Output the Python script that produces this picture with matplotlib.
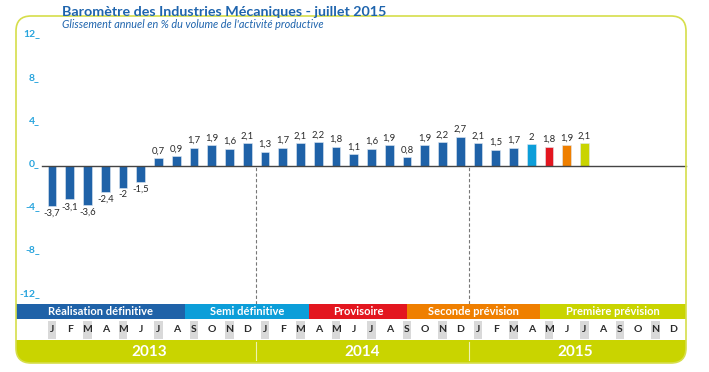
import matplotlib
matplotlib.use("Agg")
import matplotlib.pyplot as plt
from matplotlib.patches import FancyBboxPatch, Rectangle
from matplotlib.transforms import Affine2D

plt.rcParams['font.family'] = ['Lato', 'DejaVu Sans']

# data: one bar per month, from Jan 2013
values = [-3.7, -3.1, -3.6, -2.4, -2, -1.5, 0.7, 0.9, 1.7, 1.9, 1.6, 2.1,
          1.3, 1.7, 2.1, 2.2, 1.8, 1.1, 1.6, 1.9, 0.8, 1.9, 2.2, 2.7,
          2.1, 1.5, 1.7, 2, 1.8, 1.9, 2.1]
status = ['def'] * 27 + ['semi', 'prov', 'sec', 'prem']
months = ['J', 'F', 'M', 'A', 'M', 'J', 'J', 'A', 'S', 'O', 'N', 'D'] * 3
years = ['2013', '2014', '2015']
phases = ['Réalisation définitive', 'Semi définitive', 'Provisoire',
          'Seconde prévision', 'Première prévision']
phase_edges = [-2.03, 7.5, 14.5, 20.0, 27.5, 35.7]
yticks = [12, 8, 4, 0, -4, -8, -12]

colors = {'def': '#1f62a8', 'semi': '#0c9ed9', 'prov': '#e3161f',
          'sec': '#ef7f00', 'prem': '#c9d400'}
phase_colors = ['#1f62a8', '#0c9ed9', '#e3161f', '#ef7f00', '#c9d400']
green = '#c9d400'
blue_txt = '#1e64ad'

W, H = 709, 372
fig = plt.figure(figsize=(W / 100, H / 100), dpi=100)
ax = fig.add_axes([0, 0, 1, 1])
ax.set_axis_off()

# month index -> pixel x: 52 + 17.75*i ; value -> pixel y: 166 - 10.8*v
X0, DX, Y0, DY = 52, 17.75, 166, 10.8
ax.set_xlim(-X0 / DX, (W - X0) / DX)
ax.set_ylim((Y0 - H) / DY, Y0 / DY)

def xm(px):
    return (px - X0) / DX

def yv(py):
    return (Y0 - py) / DY

# pixel transform (origin top-left) for decorations
pix = Affine2D().scale(1 / W, -1 / H).translate(0, 1) + fig.transFigure

# bottom year band and month row
ax.add_patch(FancyBboxPatch((16, 322), 670, 41, boxstyle="round,pad=0,rounding_size=15",
                            transform=pix, fc=green, ec='none', zorder=1))
ax.add_patch(Rectangle((16, 320), 670, 20, transform=pix, fc='white', ec='none', zorder=2))
ax.add_patch(FancyBboxPatch((16, 16), 670, 347, boxstyle="round,pad=0,rounding_size=15",
                            transform=pix, fc='none', ec='#d6de4a', lw=1.2, zorder=5))

# phase band
for i, name in enumerate(phases):
    a, b = phase_edges[i], phase_edges[i + 1]
    ax.add_patch(Rectangle((a, yv(319)), b - a, yv(304) - yv(319), fc=phase_colors[i],
                           ec='none', zorder=3))
    ax.text((a + b) / 2, yv(311.5), name, ha='center', va='center', color='white',
            fontsize=8, fontweight='bold', zorder=4)

# month letters
for i, m in enumerate(months):
    if i % 2 == 0:
        ax.add_patch(Rectangle((i - 0.24, yv(339)), 0.48, yv(321) - yv(339),
                               fc='#d9d9d9', ec='none', zorder=3))
    ax.text(i, yv(330), m, ha='center', va='center', fontsize=7.5, fontweight='bold',
            color='#2a2a2a', zorder=4)

# years
for k, yr in enumerate(years):
    ax.text(12 * k + 5.5, yv(352), yr, ha='center', va='center', fontsize=11,
            fontweight='bold', color='white', zorder=4)
for xb in [11.5, 23.5]:
    ax.plot([xb, xb], [yv(342), yv(360)], color='white', lw=0.8, alpha=0.7, zorder=4)
    ax.vlines(xb, yv(304), 0, colors='#777777', linestyles=(0, (3, 2)), lw=0.8, zorder=2)

# bars
x = list(range(len(values)))
bars = ax.bar(x, values, 0.48, color=[colors[s] for s in status], zorder=3,
              edgecolor='#dfe8f2', linewidth=0.4)
for xi, v in zip(x, values):
    lab = ('%g' % v).replace('.', ',')
    off = 2 if v >= 0 else -2
    ax.annotate(lab, (xi, v), xytext=(0, off), textcoords='offset points',
                ha='center', va='bottom' if v >= 0 else 'top', fontsize=6.8,
                color='#2a2a2a', zorder=4)

# zero line
ax.axhline(0, xmin=42 / W, xmax=686 / W, color='#444444', lw=1, zorder=4)

# y tick labels
for t in yticks:
    ax.text(xm(40), t, '%d_' % t, ha='right', va='baseline', fontsize=7.5,
            fontweight='bold', color='#27a4dd')

# titles
ax.text(xm(62), yv(16), 'Baromètre des Industries Mécaniques - juillet 2015',
        fontsize=10.3, fontweight='bold', color=blue_txt, va='baseline', zorder=6)
ax.text(xm(62), yv(28), "Glissement annuel en % du volume de l'activité productive",
        fontsize=7.8, style='italic', color=blue_txt, va='baseline', zorder=6)

fig.savefig('out.png', dpi=100)
